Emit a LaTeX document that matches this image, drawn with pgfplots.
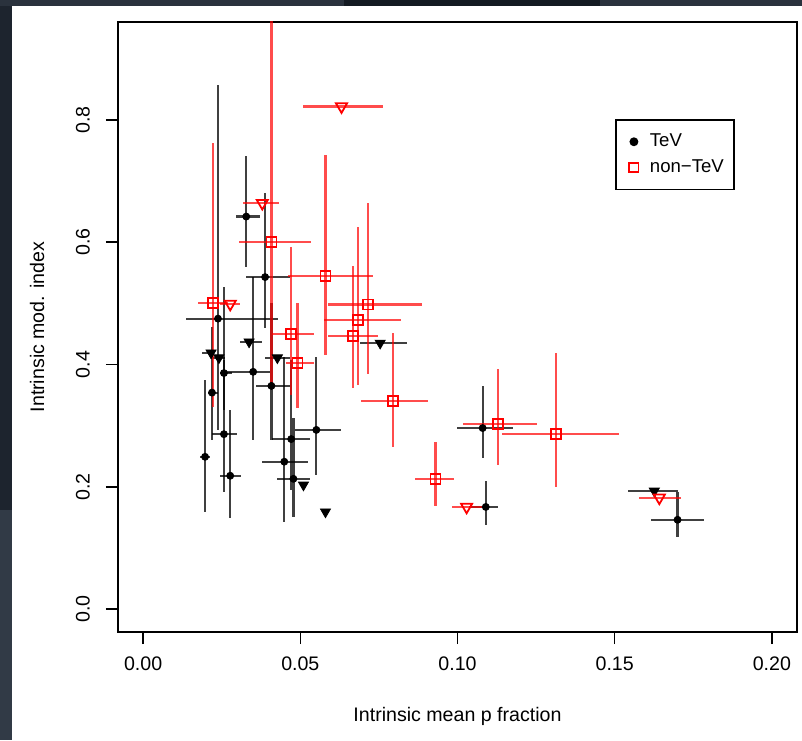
\documentclass[border=0pt]{standalone}
\usepackage{fontspec}
\setmainfont{Liberation Sans}
\usepackage{pgfplots}
\pgfplotsset{compat=1.18}
\usepackage{pgfplotstable}

\definecolor{bgA}{HTML}{2A323D}
\definecolor{bgB}{HTML}{1D242E}
\definecolor{bgC}{HTML}{313A46}
\definecolor{bgD}{HTML}{141A22}

% TeV, filled circles: x y xminus xplus yminus yplus
\pgfplotstableread{
x y xm xp ym yp
0.0328 0.642 0.0032 0.0044 0.082 0.099
0.0388 0.543 0.0060 0.0080 0.083 0.138
0.0238 0.475 0.0102 0.0192 0.182 0.383
0.0257 0.386 0.0012 0.0026 0.060 0.141
0.0350 0.388 0.0099 0.0054 0.111 0.155
0.0408 0.365 0.0048 0.0060 0.088 0.136
0.0219 0.354 0.0013 0.0019 0.077 0.108
0.0257 0.286 0.0038 0.0042 0.095 0.122
0.0471 0.278 0.0060 0.0061 0.083 0.130
0.0551 0.293 0.0067 0.0077 0.074 0.119
0.0197 0.249 0.0016 0.0016 0.090 0.126
0.0277 0.218 0.0032 0.0035 0.069 0.108
0.0449 0.241 0.0070 0.0074 0.099 0.171
0.0478 0.213 0.0051 0.0054 0.062 0.100
0.1080 0.296 0.0083 0.0096 0.049 0.069
0.1090 0.167 0.0052 0.0038 0.030 0.042
0.1700 0.146 0.0083 0.0083 0.028 0.045
}\tevpts

% TeV, upper limits (filled down triangles)
\pgfplotstableread{
x y xm xp
0.0337 0.437 0.0028 0.0042
0.0216 0.419 0.0029 0.0006
0.0241 0.411 0.0020 0.0020
0.0427 0.411 0.0039 0.0041
0.0510 0.203 0.0010 0.0010
0.0580 0.159 0.0010 0.0010
0.0754 0.435 0.0064 0.0086
0.1626 0.193 0.0083 0.0074
}\tevlim

% non-TeV, open squares
\pgfplotstableread{
x y xm xp ym yp
0.0222 0.501 0.0048 0.0048 0.170 0.262
0.0408 0.601 0.0103 0.0127 0.236 0.400
0.0580 0.545 0.0118 0.0150 0.129 0.198
0.0471 0.450 0.0060 0.0071 0.100 0.142
0.0491 0.403 0.0036 0.0051 0.074 0.098
0.0716 0.498 0.0128 0.0172 0.113 0.166
0.0684 0.473 0.0109 0.0137 0.106 0.152
0.0668 0.447 0.0080 0.0080 0.085 0.114
0.0796 0.340 0.0103 0.0111 0.075 0.112
0.0930 0.213 0.0064 0.0060 0.044 0.060
0.1128 0.303 0.0112 0.0124 0.067 0.090
0.1313 0.286 0.0173 0.0201 0.086 0.133
}\ntevpts

% non-TeV, upper limits (open down triangles)
\pgfplotstableread{
x y xm xp
0.0277 0.499 0.0032 0.0032
0.0379 0.664 0.0061 0.0054
0.0631 0.822 0.0121 0.0131
0.1029 0.167 0.0045 0.0051
0.1642 0.182 0.0064 0.0068
}\ntevlim

\pgfplotsset{
  ebar/.style 2 args={only marks, mark=*, mark options={opacity=0}, forget plot,
    /pgfplots/error bars/x dir=both, /pgfplots/error bars/x explicit,
    /pgfplots/error bars/error mark=none,
    /pgfplots/error bars/error bar style={#1, opacity=#2, line width=1.1pt}},
  ebarxy/.style 2 args={ebar={#1}{#2}, /pgfplots/error bars/y dir=both, /pgfplots/error bars/y explicit},
}

\begin{document}
\begin{tikzpicture}[x=1pt,y=1pt]
% screenshot surroundings
\fill[bgA] (0,0) rectangle (401,370);
\fill[bgB] (0,115) rectangle (6,367);
\fill[bgC] (0,0) rectangle (6,115);
\fill[bgD] (172,367) rectangle (300,370);
\fill[white] (6,0) rectangle (401,367);
\begin{axis}[
  at={(59pt,54pt)}, anchor=south west,
  scale only axis, width=339.5pt, height=305pt,
  xmin=-0.008, xmax=0.208, ymin=-0.0376, ymax=0.9603,
  axis line style={black, line width=0.9pt},
  tick align=outside, tick pos=left,
  major tick length=6pt,
  tick style={black, line width=0.8pt},
  xtick={0,0.05,0.1,0.15,0.2},
  ytick={0,0.2,0.4,0.6,0.8},
  /pgf/number format/assume math mode=true,
  xticklabel style={/pgf/number format/fixed, /pgf/number format/fixed zerofill, /pgf/number format/precision=2, anchor=north, yshift=-3pt},
  yticklabel style={/pgf/number format/fixed, /pgf/number format/fixed zerofill, /pgf/number format/precision=1, rotate=90, anchor=south},
  yticklabel shift=4.5pt,
  tick label style={font=\fontsize{9.8}{12}\selectfont},
  xlabel={Intrinsic mean p fraction},
  ylabel={Intrinsic mod. index},
  xlabel style={at={(axis description cs:0.5,-0.139)}, anchor=center, font=\fontsize{9.8}{12}\selectfont},
  ylabel style={at={(axis description cs:-0.1193,0.5)}, anchor=center, font=\fontsize{9.8}{12}\selectfont},
  legend style={at={(0.732,0.841)}, anchor=north west, draw=black, line width=0.9pt,
    font=\fontsize{9.3}{12}\selectfont, inner xsep=3pt, inner ysep=5pt, row sep=1pt},
  legend image code/.code={\path[draw=none, fill=none] (0pt,-2pt) rectangle (12pt,2pt); \path[#1, draw=none] plot coordinates {(6pt,0pt)};},
  legend cell align=left,
]
% error bars: TeV
\addplot[ebarxy={black}{0.75}]
  table[x=x, y=y, x error minus=xm, x error plus=xp, y error minus=ym, y error plus=yp] {\tevpts};
\addplot[ebar={black}{0.75}]
  table[x=x, y=y, x error minus=xm, x error plus=xp] {\tevlim};
% error bars: non-TeV
\addplot[ebarxy={red}{0.7}]
  table[x=x, y=y, x error minus=xm, x error plus=xp, y error minus=ym, y error plus=yp] {\ntevpts};
\addplot[ebar={red}{0.7}]
  table[x=x, y=y, x error minus=xm, x error plus=xp] {\ntevlim};
% marks
\addplot[only marks, forget plot, mark=*, mark size=1.75pt, black] table[x=x, y=y] {\tevpts};
\addplot[only marks, forget plot, mark=triangle*, mark size=2.9pt, black, mark options={rotate=180}] table[x=x, y=y] {\tevlim};
\addplot[only marks, forget plot, mark=square, mark size=2.5pt, red, mark options={line width=0.9pt}] table[x=x, y=y] {\ntevpts};
\addplot[only marks, forget plot, mark=triangle, mark size=3.2pt, red, mark options={rotate=180, line width=0.9pt}] table[x=x, y=y] {\ntevlim};
% legend
\addlegendimage{only marks, mark=*, black, mark size=1.75pt}
\addlegendentry{TeV}
\addlegendimage{only marks, mark=square, red, mark size=2.3pt, mark options={draw=red, line width=0.9pt}}
\addlegendentry{non−TeV}
\end{axis}
\pgfresetboundingbox
\useasboundingbox (0,0) rectangle (401,370);
\end{tikzpicture}
\end{document}
